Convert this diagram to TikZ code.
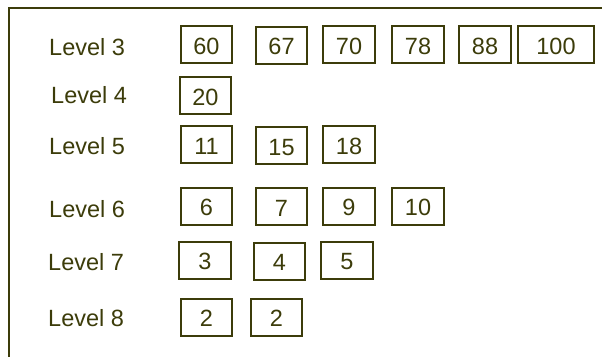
\documentclass[tikz,border=0pt]{standalone}
\usepackage{fontspec}
\setmainfont{Liberation Sans}
\definecolor{olive}{RGB}{60,60,10}
\begin{document}
\begin{tikzpicture}[x=1pt,y=-1pt,
  cell/.style={draw=olive,line width=2pt,text=olive,inner sep=0pt,
    text height=19.5pt,text depth=0pt,
    minimum width=51pt,minimum height=37pt,font=\fontsize{23.5}{28}\selectfont},
  lvl/.style={anchor=base west,inner sep=0pt,text=olive,font=\fontsize{23.5}{28}\selectfont},
  frame/.style={draw=olive,line width=2pt}]
\useasboundingbox (0,0) rectangle (602,356);
\draw[frame] (9,357) -- (9,8) -- (603,8);
% labels
\node[lvl] (l3) at (49,55) {Level 3};
\node[lvl] (l4) at (51,103) {Level 4};
\node[lvl] (l5) at (49,154) {Level 5};
\node[lvl] (l6) at (49,217) {Level 6};
\node[lvl] (l7) at (48,270) {Level 7};
\node[lvl] (l8) at (48,326) {Level 8};
% level 3
\node[cell] (a60) at (206.5,44.5) {60};
\node[cell] (a67) at (281.5,45) {67};
\node[cell,minimum width=52pt] (a70) at (349,44.5) {70};
\node[cell,minimum width=52pt] (a78) at (418,44.5) {78};
\node[cell,minimum width=52pt] (a88) at (485,44.5) {88};
\node[cell,minimum width=76pt] (a100) at (556,44.5) {100};
% level 4
\node[cell] (b20) at (205.5,95.5) {20};
% level 5
\node[cell] (c11) at (206.5,144.5) {11};
\node[cell] (c15) at (281.5,145.5) {15};
\node[cell,minimum width=52pt] (c18) at (349,144.5) {18};
% level 6
\node[cell] (d6) at (206.5,206) {6};
\node[cell] (d7) at (281.5,206.5) {7};
\node[cell,minimum width=52pt] (d9) at (349,206) {9};
\node[cell,minimum width=52pt] (d10) at (418,206) {10};
% level 7
\node[cell,minimum width=52pt] (e3) at (205,260) {3};
\node[cell] (e4) at (279.5,261) {4};
\node[cell,minimum width=52pt] (e5) at (347,260) {5};
% level 8
\node[cell] (f2a) at (206.5,317) {2};
\node[cell] (f2b) at (276.5,317) {2};
\end{tikzpicture}
\end{document}
